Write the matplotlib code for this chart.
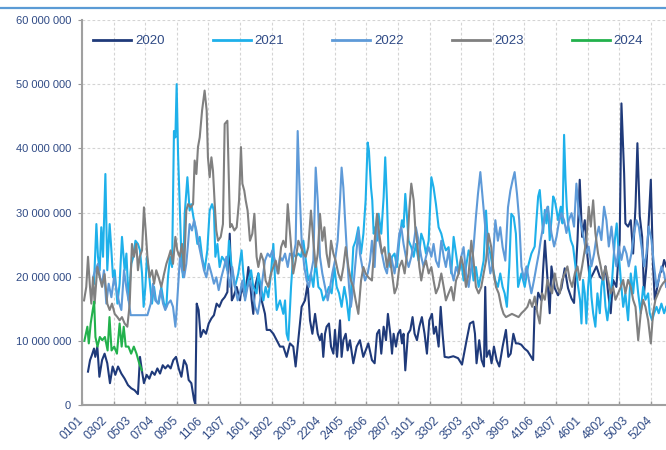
import matplotlib
matplotlib.use("Agg")
import matplotlib.pyplot as plt
from matplotlib.lines import Line2D
from matplotlib.ticker import FixedLocator, FuncFormatter

# day of year (x) and value in millions (y) for each year
days_2020 = [4.8, 6.1, 7.3, 8.6, 9.4, 10.7, 12.0, 13.7, 15.3, 17.0, 18.7, 20.4, 22.1, 23.8, 25.9, 28.0, 30.1, 32.2, 34.3, 36.4,
             37.7, 39.0, 40.2, 41.9, 43.6, 45.3, 47.0, 48.7, 50.4, 52.1, 53.7, 55.4, 57.1, 58.8, 60.5, 62.2, 63.9, 65.6, 67.2, 68.5,
             70.2, 71.9, 72.7, 73.6, 74.8, 76.1, 77.8, 79.5, 81.2, 82.9, 84.5, 86.2, 87.9, 89.6, 91.3, 93.0, 94.5, 95.8, 96.8, 98.9,
             101.0, 102.0, 104.2, 106.3, 107.3, 108.4, 109.4, 110.5, 112.6, 113.7, 114.7, 116.8, 117.9, 120.0, 122.1, 124.2, 126.3,
             128.4, 130.5, 132.6, 134.7, 136.2, 137.9, 140.0, 142.1, 143.8, 145.3, 146.8, 148.5, 150.2, 151.6, 152.7, 153.7, 154.8,
             155.8, 157.3, 158.6, 160.1, 161.1, 162.4, 164.3, 165.3, 166.4, 167.9, 169.1, 170.6, 172.7, 174.8, 176.9, 179.0, 180.5,
             182.2, 184.5, 186.2, 187.7, 189.1, 190.4, 191.9, 193.4, 194.6, 196.1, 197.2, 198.2, 199.7, 201.0, 202.4, 203.5, 204.5,
             205.6, 207.3, 208.8, 210.2, 211.5, 213.0, 214.5, 216.1, 217.8, 219.3, 220.8, 222.5, 223.7, 225.0, 226.7, 228.0, 229.2,
             230.5, 233.0, 236.0, 239.0, 241.5, 244.4, 246.5, 248.6, 249.7, 250.7, 252.4, 253.9, 255.4, 256.2, 257.1, 258.8, 260.2,
             261.7, 263.4, 265.1, 267.2, 269.3, 270.8, 272.3, 274.0, 275.6, 277.1, 279.0, 281.0, 283.0, 285.0, 286.5, 287.5, 288.6,
             289.7, 291.8, 292.8, 294.0, 295.5, 297.0, 298.1, 300.2, 302.3, 304.4, 306.5, 308.6, 310.8, 312.4, 314.6, 316.0, 317.5,
             319.2, 320.9, 322.4, 324.5, 326.6, 328.7, 330.8, 332.3, 334.0, 335.6, 337.1, 339.2, 341.3, 342.4, 344.1, 344.9, 346.6,
             348.3, 349.8, 351.3, 352.5, 354.0, 355.5, 356.7, 358.2, 359.7, 361.0, 362.4, 363.5, 365.2, 366.7, 368.1, 369.4, 370.7]
vals_2020 = [5.2, 7.0, 7.8, 8.8, 7.5, 9.1, 4.4, 7.0, 8.0, 6.5, 3.4, 6.0, 4.7, 6.0, 4.9, 4.1, 3.1, 2.6, 2.3, 1.7,
             7.5, 5.2, 3.4, 4.7, 4.1, 5.2, 4.7, 5.7, 4.9, 6.2, 5.7, 6.2, 5.7, 7.0, 7.5, 5.7, 4.4, 7.0, 6.2, 3.9,
             3.4, 0.8, 0.1, 15.8, 14.8, 10.6, 11.7, 11.1, 12.7, 13.5, 14.0, 15.8, 15.3, 16.3, 16.8, 17.6, 26.7, 16.3, 16.8, 18.4,
             16.3, 18.4, 16.8, 21.5, 19.4, 16.3, 14.2, 18.4, 20.5, 17.4, 16.3, 14.2, 11.7, 11.7, 11.1, 10.1, 9.1,
             9.1, 7.5, 9.6, 9.1, 6.0, 10.1, 15.3, 16.3, 18.9, 13.2, 11.1, 14.2, 11.1, 10.1, 11.1, 7.5, 11.1,
             12.2, 12.7, 9.1, 8.0, 11.7, 7.5, 13.2, 7.5, 10.1, 11.1, 8.5, 10.1, 6.5, 9.1, 10.1, 7.5, 8.5,
             9.6, 7.0, 6.5, 11.1, 11.7, 8.0, 12.2, 10.1, 14.2, 11.1, 8.0, 11.1, 9.1, 11.1, 11.7, 9.6, 11.1,
             5.4, 11.1, 11.7, 13.7, 11.1, 10.1, 12.2, 13.7, 11.1, 8.0, 13.2, 14.2, 11.1, 12.2, 9.1, 15.3, 11.1,
             7.5, 7.4, 7.6, 7.3, 6.3, 10.1, 12.7, 13.0, 11.1, 6.5, 10.1, 7.0, 6.0, 18.4, 7.5, 8.5, 6.5,
             9.1, 7.0, 6.0, 9.1, 11.7, 7.5, 8.0, 11.1, 9.6, 9.6, 9.4, 8.8, 8.4, 7.6, 7.0, 15.3, 15.0,
             17.5, 16.3, 21.0, 25.6, 19.9, 14.3, 21.6, 18.2, 17.1, 18.2, 21.3, 18.2, 16.6, 15.9, 25.7, 35.1, 26.2,
             28.8, 23.1, 19.5, 20.5, 21.6, 20.0, 19.5, 21.6, 17.4, 14.3, 19.5, 18.4, 25.7, 47.0, 36.1, 28.3, 27.8,
             28.8, 23.6, 30.9, 40.8, 29.4, 26.2, 17.4, 21.6, 28.8, 35.1, 21.6, 16.4, 18.5, 20.5, 21.0, 22.6, 21.6]

days_2021 = [8.6, 10.1, 11.1, 12.2, 13.2, 14.3, 15.8, 17.0, 18.5, 19.6, 20.6, 21.7, 23.4, 24.8, 26.3, 28.0, 29.1, 30.5, 32.2, 33.5,
             34.8, 36.4, 37.7, 39.0, 40.0, 41.1, 42.1, 43.2, 44.2, 45.3, 46.6, 47.8, 49.5, 51.2, 52.9, 54.4, 55.4, 56.7, 58.0, 59.2,
             60.1, 60.9, 61.8, 62.8, 63.9, 64.9, 66.0, 67.7, 69.1, 70.2, 71.5, 72.7, 74.0, 75.5, 77.0, 78.6, 80.3, 81.8, 83.3, 84.5,
             85.4, 86.7, 88.1, 89.6, 91.3, 93.0, 94.0, 95.7, 97.8, 99.9, 102.0, 103.1, 104.6, 106.3, 108.0, 109.4, 111.5, 112.6,
             114.3, 115.8, 117.2, 118.9, 120.6, 122.1, 123.1, 124.2, 126.3, 128.4, 129.5, 130.5, 131.6, 133.3, 134.7, 136.2, 137.9,
             139.6, 141.1, 143.2, 144.2, 145.9, 147.4, 148.9, 150.6, 152.3, 153.7, 155.8, 157.3, 159.0, 160.7, 162.2, 163.7, 165.3,
             167.0, 168.5, 170.0, 171.2, 172.7, 174.2, 175.9, 177.6, 179.1, 180.5, 181.8, 182.6, 183.9, 184.7, 185.6, 186.6, 187.7,
             188.7, 190.4, 191.9, 192.9, 194.0, 195.0, 196.1, 197.2, 198.8, 200.3, 201.8, 203.5, 204.5, 205.6, 206.7, 207.7, 209.4,
             210.9, 212.3, 214.0, 215.7, 217.2, 218.7, 220.4, 222.1, 223.5, 225.0, 226.7, 228.4, 229.9, 231.3, 233.0, 234.7, 236.2,
             237.7, 239.4, 241.0, 242.5, 244.0, 245.7, 247.4, 248.8, 250.3, 252.0, 253.7, 255.2, 256.7, 257.9, 259.4, 260.9, 262.6,
             264.2, 265.7, 267.2, 268.5, 269.9, 271.4, 272.7, 274.2, 275.6, 277.0, 279.1, 281.2, 283.3, 285.4, 287.5, 288.6, 289.7,
             290.7, 291.8, 292.8, 293.9, 294.9, 296.0, 297.0, 298.1, 299.2, 300.2, 301.3, 302.3, 304.0, 305.1, 306.1, 307.0, 307.8,
             308.6, 310.3, 311.8, 313.3, 315.0, 316.2, 317.1, 318.1, 319.2, 320.2, 321.3, 322.4, 323.4, 324.5, 325.9, 327.2, 328.7,
             329.7, 330.8, 332.3, 333.5, 335.0, 336.5, 338.2, 339.4, 340.7, 342.0, 343.5, 344.9, 346.6, 348.3, 349.8, 351.3, 353.0,
             354.6, 356.1, 357.6, 359.3, 360.3, 361.8, 363.1, 364.6, 366.0, 367.7, 369.4, 370.7]
vals_2021 = [18.9, 28.2, 23.1, 21.0, 27.7, 23.1, 36.0, 21.0, 28.2, 24.1, 19.9, 21.0, 15.8, 18.9, 26.2, 21.0, 23.6, 16.3, 22.0, 23.1,
             25.6, 25.1, 24.1, 20.5, 15.3, 18.4, 23.1, 21.0, 18.4, 15.8, 18.4, 16.3, 15.8, 18.4, 15.8, 15.3, 19.9, 23.1, 21.5, 42.7,
             41.7, 50.0, 39.1, 31.3, 23.1, 19.9, 29.8, 35.5, 30.3, 31.3, 29.3, 27.7, 25.1, 26.2, 23.1, 21.0, 24.1, 30.3, 31.3, 30.3,
             23.1, 25.1, 21.5, 23.1, 22.5, 21.0, 25.6, 21.5, 18.4, 20.5, 24.1, 20.5, 17.4, 19.4, 21.0, 18.4, 17.4, 20.5,
             18.4, 16.3, 18.4, 16.8, 20.5, 25.1, 19.9, 14.8, 16.3, 14.2, 16.3, 11.1, 10.1, 18.4, 23.6, 23.1, 23.6,
             23.1, 25.6, 21.5, 19.4, 20.5, 18.4, 22.5, 18.4, 17.9, 16.3, 17.4, 18.4, 17.4, 21.5, 18.4, 17.4, 15.3,
             18.4, 16.3, 13.2, 17.4, 24.6, 25.6, 27.7, 23.6, 26.7, 31.9, 40.9, 39.6, 33.9, 31.9, 26.7, 27.7, 25.6,
             29.8, 26.7, 32.4, 38.6, 31.9, 23.6, 21.5, 23.1, 23.6, 21.5, 25.6, 28.8, 27.7, 32.9, 29.3, 25.6, 24.6,
             23.1, 25.1, 22.5, 26.7, 25.6, 23.6, 25.6, 35.5, 33.9, 31.3, 27.7, 26.7, 25.1, 24.1, 24.6, 20.5, 26.2,
             23.6, 20.5, 22.5, 19.4, 21.5, 24.1, 22.5, 19.4, 21.5, 18.4, 20.5, 22.5, 30.3, 25.1, 23.6, 21.5, 19.4,
             18.4, 20.5, 18.4, 17.4, 15.3, 21.5, 29.8, 29.3, 26.7, 18.4, 20.5, 18.4, 21.6, 23.6, 24.7, 28.8, 32.5,
             33.5, 29.9, 26.8, 30.4, 28.3, 30.9, 25.7, 28.8, 32.5, 31.9, 30.4, 28.8, 30.9, 28.3, 42.1, 35.1, 30.9,
             28.3, 25.7, 24.7, 21.6, 18.4, 16.4, 12.7, 19.5, 17.4, 12.7, 18.4, 21.6, 16.9, 14.3, 12.2, 17.4, 14.3,
             18.4, 20.5, 15.3, 13.2, 16.4, 19.5, 25.7, 28.3, 23.6, 19.5, 15.3, 17.4, 13.2, 20.5, 17.4, 21.6, 17.4,
             14.3, 18.4, 16.4, 17.4, 14.3, 13.2, 14.3, 15.3, 14.3, 15.8, 14.3, 15.3]

days_2022 = [8.0, 9.4, 11.1, 12.4, 13.7, 14.9, 16.4, 17.9, 19.6, 21.3, 22.9, 24.6, 25.9, 27.6, 29.3, 30.5, 31.8, 42.4, 44.5, 45.9,
             47.4, 49.1, 50.8, 52.3, 53.7, 55.4, 57.1, 58.6, 60.1, 60.9, 61.8, 63.0, 64.3, 65.6, 67.0, 68.1, 69.1, 70.6, 71.9, 73.4,
             74.8, 76.5, 78.2, 79.7, 81.2, 82.9, 84.5, 86.0, 87.5, 89.2, 90.9, 92.4, 93.2, 94.7, 96.1, 97.8, 99.5, 101.0, 102.5,
             104.2, 105.8, 107.3, 108.8, 110.5, 112.2, 113.7, 115.1, 116.8, 118.5, 120.0, 121.5, 123.1, 124.8, 126.3, 127.8, 129.5,
             131.2, 132.6, 134.7, 136.2, 137.5, 138.8, 140.0, 141.7, 143.2, 144.7, 145.9, 147.4, 148.9, 150.2, 151.6, 153.1, 154.8,
             156.5, 158.0, 159.4, 161.1, 162.8, 164.3, 165.3, 166.4, 167.5, 168.7, 170.0, 171.2, 172.7, 174.2, 175.9, 176.9, 178.4,
             180.1, 181.8, 183.3, 184.5, 186.2, 187.7, 189.1, 190.8, 192.5, 194.0, 195.5, 197.2, 198.8, 200.3, 201.8, 203.1, 204.5,
             206.0, 207.7, 209.4, 210.9, 212.3, 214.0, 215.7, 217.2, 218.7, 220.4, 222.1, 223.5, 225.0, 226.7, 228.4, 229.9, 231.3,
             233.0, 234.7, 236.2, 237.7, 239.4, 241.0, 242.5, 244.0, 245.7, 247.4, 248.8, 250.3, 251.6, 253.1, 254.5, 256.2, 257.9,
             259.4, 260.9, 262.6, 264.2, 265.7, 267.2, 268.9, 270.6, 272.1, 273.5, 274.8, 276.3, 277.7, 279.1, 280.8, 282.3, 283.8,
             285.4, 287.1, 288.6, 290.1, 291.3, 292.8, 294.3, 295.6, 297.0, 298.1, 299.8, 301.3, 302.7, 304.4, 306.1, 307.6, 309.1,
             310.8, 312.4, 313.9, 315.4, 317.1, 318.8, 320.2, 321.7, 323.4, 325.1, 326.6, 328.1, 329.7, 331.4, 332.9, 334.4, 336.1,
             337.8, 339.2, 340.7, 342.4, 344.1, 345.6, 347.0, 348.7, 350.4, 351.9, 353.4, 355.1, 356.7, 358.2, 359.7, 361.4, 363.1,
             364.6, 366.0, 367.7, 369.4, 370.7]
vals_2022 = [19.9, 21.0, 22.0, 19.9, 18.9, 21.0, 15.8, 18.9, 16.8, 19.9, 17.9, 15.8, 14.8, 21.0, 17.9, 16.3, 14.0, 14.0, 15.8, 18.9,
             16.3, 15.8, 17.9, 15.8, 14.8, 15.8, 16.3, 15.3, 12.2, 14.8, 18.4, 23.1, 21.0, 19.9, 22.0, 25.1, 28.2, 27.2, 28.8, 27.2,
             25.1, 23.1, 21.0, 19.9, 22.0, 20.5, 18.9, 19.9, 17.9, 19.9, 21.5, 23.1, 20.5, 18.4, 21.5, 18.4, 16.3, 17.4, 19.4,
             16.3, 18.4, 19.4, 17.9, 15.3, 14.2, 16.3, 19.4, 22.5, 23.6, 23.1, 24.1, 22.5, 20.5, 23.1, 22.5, 23.6,
             21.5, 23.6, 23.1, 25.1, 42.7, 32.9, 25.6, 21.5, 19.4, 18.4, 20.5, 22.5, 37.0, 31.9, 23.1, 20.5, 18.4,
             16.3, 18.4, 20.5, 22.5, 25.6, 31.9, 37.0, 33.9, 28.8, 23.6, 18.4, 15.3, 18.4, 22.5, 27.2, 23.6, 21.5,
             19.4, 20.5, 22.5, 25.6, 21.5, 29.3, 25.6, 23.6, 21.5, 20.5, 23.6, 22.5, 20.5, 23.1, 26.7, 27.7, 25.1,
             23.1, 21.5, 23.1, 25.1, 27.7, 25.6, 23.1, 21.5, 23.1, 24.6, 23.1, 25.1, 22.5, 21.5, 25.6, 23.1, 21.5,
             24.1, 21.0, 19.4, 21.5, 20.5, 23.1, 24.6, 20.5, 18.4, 21.5, 24.6, 29.3, 32.9, 36.3, 32.4, 27.7, 23.6,
             20.5, 22.0, 28.8, 25.6, 27.7, 24.6, 22.5, 30.8, 33.4, 35.0, 36.3, 32.9, 28.8, 21.6, 19.5, 21.6, 19.5,
             17.4, 19.5, 21.6, 23.6, 25.7, 27.8, 29.9, 30.9, 28.8, 26.8, 24.7, 26.2, 28.3, 29.9, 28.8, 26.8, 28.8,
             29.9, 27.8, 34.5, 29.9, 27.8, 25.7, 23.6, 24.7, 21.6, 23.6, 26.2, 27.8, 25.7, 30.9, 28.8, 24.7, 27.8,
             23.6, 21.6, 24.7, 22.6, 24.7, 23.6, 21.6, 23.6, 26.8, 28.8, 27.8, 24.7, 21.6, 23.6, 27.8, 25.7, 21.6,
             18.4, 19.5, 21.6, 20.5, 18.4]

days_2023 = [2.3, 3.7, 4.8, 5.9, 6.9, 8.0, 9.0, 10.7, 12.2, 13.7, 15.3, 17.0, 18.5, 20.0, 21.7, 23.4, 24.8, 26.3, 28.0, 29.7,
             31.2, 32.6, 33.9, 35.4, 36.4, 37.5, 39.0, 40.2, 41.3, 42.4, 43.8, 45.3, 46.6, 48.0, 49.5, 51.2, 52.9, 54.4, 55.9, 57.1,
             58.6, 60.1, 61.3, 62.8, 64.3, 65.6, 67.0, 68.1, 69.8, 71.3, 72.3, 73.4, 74.4, 75.5, 77.0, 78.6, 79.9, 80.7, 81.8, 82.9,
             83.9, 85.0, 86.0, 87.1, 88.8, 90.2, 91.3, 93.0, 94.7, 95.7, 97.4, 98.9, 100.4, 101.6, 102.5, 103.7, 104.6, 105.8, 107.3,
             108.8, 110.1, 111.5, 112.6, 114.3, 115.8, 117.2, 118.9, 120.6, 122.1, 123.6, 125.3, 127.0, 128.4, 129.9, 131.2, 132.0,
             133.3, 134.7, 136.2, 137.9, 139.6, 141.1, 142.6, 144.2, 145.9, 147.4, 148.9, 150.2, 151.6, 153.1, 154.4, 155.8, 157.3,
             158.6, 160.1, 161.5, 163.2, 164.9, 166.4, 167.9, 169.6, 171.2, 172.7, 174.2, 175.9, 177.6, 179.1, 180.5, 182.2, 184.5,
             186.2, 187.7, 189.1, 190.8, 192.5, 194.0, 195.5, 197.2, 198.8, 200.3, 201.8, 203.5, 205.2, 206.7, 208.1, 209.4, 210.9,
             211.9, 213.0, 214.5, 215.7, 217.2, 218.7, 220.4, 222.1, 223.5, 225.0, 226.7, 228.4, 229.9, 231.3, 233.0, 234.7, 236.2,
             237.7, 239.4, 241.0, 242.5, 244.0, 245.7, 247.4, 248.8, 250.3, 252.0, 253.7, 255.2, 256.7, 258.3, 260.0, 261.5, 263.0,
             264.7, 266.4, 267.8, 269.3, 273.1, 277.3, 279.1, 281.2, 282.9, 284.4, 285.9, 287.5, 289.2, 290.7, 292.2, 293.9, 295.6,
             297.0, 298.5, 300.2, 301.9, 303.4, 304.8, 306.5, 308.2, 309.7, 311.2, 312.9, 314.6, 316.0, 317.5, 318.8, 320.2, 321.7,
             323.0, 324.5, 325.9, 327.6, 329.3, 330.8, 332.3, 334.0, 335.6, 337.1, 338.6, 340.3, 342.0, 343.5, 344.9, 346.6, 348.3,
             349.8, 351.3, 353.0, 354.6, 356.1, 357.6, 359.3, 361.0, 362.4, 363.9, 365.6, 367.3, 368.8, 370.7]
vals_2023 = [16.3, 18.4, 23.1, 18.9, 15.8, 19.9, 15.8, 21.5, 19.9, 18.4, 20.4, 15.8, 14.8, 15.8, 14.2, 13.7, 13.2, 13.7, 12.7, 12.2,
             15.8, 25.1, 23.1, 25.1, 21.0, 23.1, 24.1, 30.8, 27.2, 23.1, 19.9, 21.0, 18.9, 21.0, 19.9, 18.4, 20.4, 22.0, 23.1, 24.1,
             22.0, 26.2, 24.1, 23.1, 25.1, 21.0, 30.3, 31.3, 30.8, 31.3, 38.1, 36.0, 40.2, 41.7, 45.9, 49.0, 45.9, 38.6, 35.5, 38.6,
             36.5, 31.3, 27.2, 25.6, 26.2, 28.2, 43.8, 44.3, 27.7, 28.2, 27.2, 27.7, 31.9, 40.2, 34.5, 33.4, 31.9, 30.3, 25.6,
             26.7, 29.8, 23.1, 21.5, 23.6, 22.5, 19.4, 18.4, 20.5, 21.5, 22.5, 20.5, 24.6, 25.6, 24.6, 31.3, 28.8,
             24.6, 20.5, 22.5, 25.6, 24.6, 23.6, 23.1, 24.6, 30.3, 25.6, 21.5, 23.6, 29.8, 25.6, 27.7, 23.6, 21.5,
             25.6, 23.6, 22.5, 20.5, 19.4, 21.5, 24.6, 21.5, 19.4, 18.4, 16.3, 14.2, 19.4, 21.5, 20.5, 19.9, 19.4,
             25.6, 29.8, 26.7, 23.6, 24.6, 21.5, 23.6, 20.5, 17.4, 18.4, 21.5, 22.5, 20.5, 23.6, 30.3, 34.5, 31.9,
             27.7, 25.6, 21.5, 19.4, 21.5, 22.5, 20.5, 21.5, 19.4, 17.4, 18.4, 20.5, 18.4, 16.3, 17.4, 18.4, 16.3,
             19.4, 20.5, 23.1, 21.5, 18.4, 20.5, 25.6, 22.5, 18.4, 17.4, 18.4, 20.5, 22.5, 26.7, 24.6, 20.5, 18.4,
             17.4, 15.3, 14.2, 13.7, 14.2, 13.7, 14.3, 14.8, 15.3, 16.4, 15.3, 16.9, 14.3, 12.7, 17.4, 16.4, 19.5,
             18.4, 17.4, 20.5, 18.4, 17.4, 19.5, 20.5, 21.6, 19.5, 18.4, 20.5, 21.6, 19.5, 21.6, 23.6, 25.7, 30.9,
             27.8, 31.9, 26.8, 23.6, 21.6, 19.5, 21.6, 19.5, 17.4, 18.4, 16.4, 17.4, 18.4, 19.5, 17.4, 19.5, 18.4,
             16.4, 15.3, 10.1, 14.3, 16.4, 15.3, 13.2, 9.6, 14.3, 16.4, 17.4, 18.4, 19.0, 19.5]

days_2024 = [2.5, 4.4, 5.3, 6.5, 7.8, 8.7, 9.5, 10.8, 12.3, 13.8, 15.5, 17.2, 18.4, 19.7, 21.4, 23.1, 24.8, 26.1, 27.4, 28.7,
             30.4, 32.1, 33.8, 35.5, 37.2, 38.9]
vals_2024 = [10.0, 12.2, 9.6, 12.7, 14.8, 16.1, 10.6, 9.1, 10.6, 10.1, 10.6, 8.5, 13.7, 8.5, 9.1, 8.0, 12.7, 9.1, 12.2, 9.1,
             9.1, 8.0, 9.1, 8.0, 6.5, 5.4]

# axis labels: week number + weekday, every 15 days
tick_labels = ["0101", "0302", "0503", "0704", "0905", "1106", "1307", "1601", "1802", "2003", "2204", "2405", "2606",
               "2807", "3101", "3302", "3503", "3704", "3905", "4106", "4307", "4601", "4802", "5003", "5204"]
label_days = [1 + 15 * i for i in range(len(tick_labels))]
grid_days = [1 + 20 * i for i in range(19)]

series = [
    ("2020", days_2020, vals_2020, "#1F3A7A"),
    ("2021", days_2021, vals_2021, "#1EB0EA"),
    ("2022", days_2022, vals_2022, "#5E9AD8"),
    ("2023", days_2023, vals_2023, "#808080"),
    ("2024", days_2024, vals_2024, "#22B14C"),
]

plt.rcParams["font.family"] = ["Liberation Sans", "DejaVu Sans"]
text_color = "#2F4A85"

fig = plt.figure(figsize=(6.66, 4.5), dpi=100)
ax = fig.add_axes([82 / 666, 45 / 450, 584 / 666, 385 / 450])

for name, d, v, c in series:
    ax.plot(d, v, color=c, lw=1.5, label=name)

ax.set_xlim(1, 370.6)
ax.set_ylim(0, 60)

# gridlines / tick marks every 20 days, labels every 15 days
ax.xaxis.remove_overlapping_locs = False
ax.xaxis.set_major_locator(FixedLocator(grid_days))
ax.xaxis.set_major_formatter(FuncFormatter(lambda x, p: ""))
ax.set_xticks(label_days, tick_labels, minor=True)
ax.tick_params(axis="x", which="major", direction="in", length=3, color="#999999", width=1)
ax.tick_params(axis="x", which="minor", length=0, pad=10, labelsize=8.8, labelcolor=text_color)
for lab in ax.xaxis.get_minorticklabels():
    lab.set_rotation(45)
    lab.set_ha("right")
    lab.set_va("center")
    lab.set_rotation_mode("anchor")

ax.set_yticks(range(0, 61, 10))
ax.yaxis.set_major_formatter(FuncFormatter(lambda y, p: f"{int(y * 1e6):,}".replace(",", " ")))
ax.tick_params(axis="y", length=3, color="#999999", pad=5, labelsize=8, labelcolor=text_color)

ax.grid(True, axis="both", which="major", color="#D4D4D4", linestyle=(0, (2.5, 2)), lw=0.8)
ax.set_axisbelow(True)

for s in ["top", "right"]:
    ax.spines[s].set_visible(False)
for s in ["left", "bottom"]:
    ax.spines[s].set_color("#A0A0A0")
    ax.spines[s].set_linewidth(1.5)

leg = ax.legend(loc="center left", bbox_to_anchor=(11 / 584, (405 - 41) / 385), ncol=5, frameon=False,
                fontsize=9.5, handlelength=2.88, handletextpad=0.3, columnspacing=3.65, borderpad=0,
                borderaxespad=0)
for t in leg.get_texts():
    t.set_color(text_color)
for h in leg.get_lines():
    h.set_linewidth(2)

# thin blue rule along the top of the image
fig.add_artist(Line2D([0, 1], [1 - 8 / 450, 1 - 8 / 450], color="#5B9BD5", lw=1.6, transform=fig.transFigure))

fig.savefig("out.png", dpi=100)
